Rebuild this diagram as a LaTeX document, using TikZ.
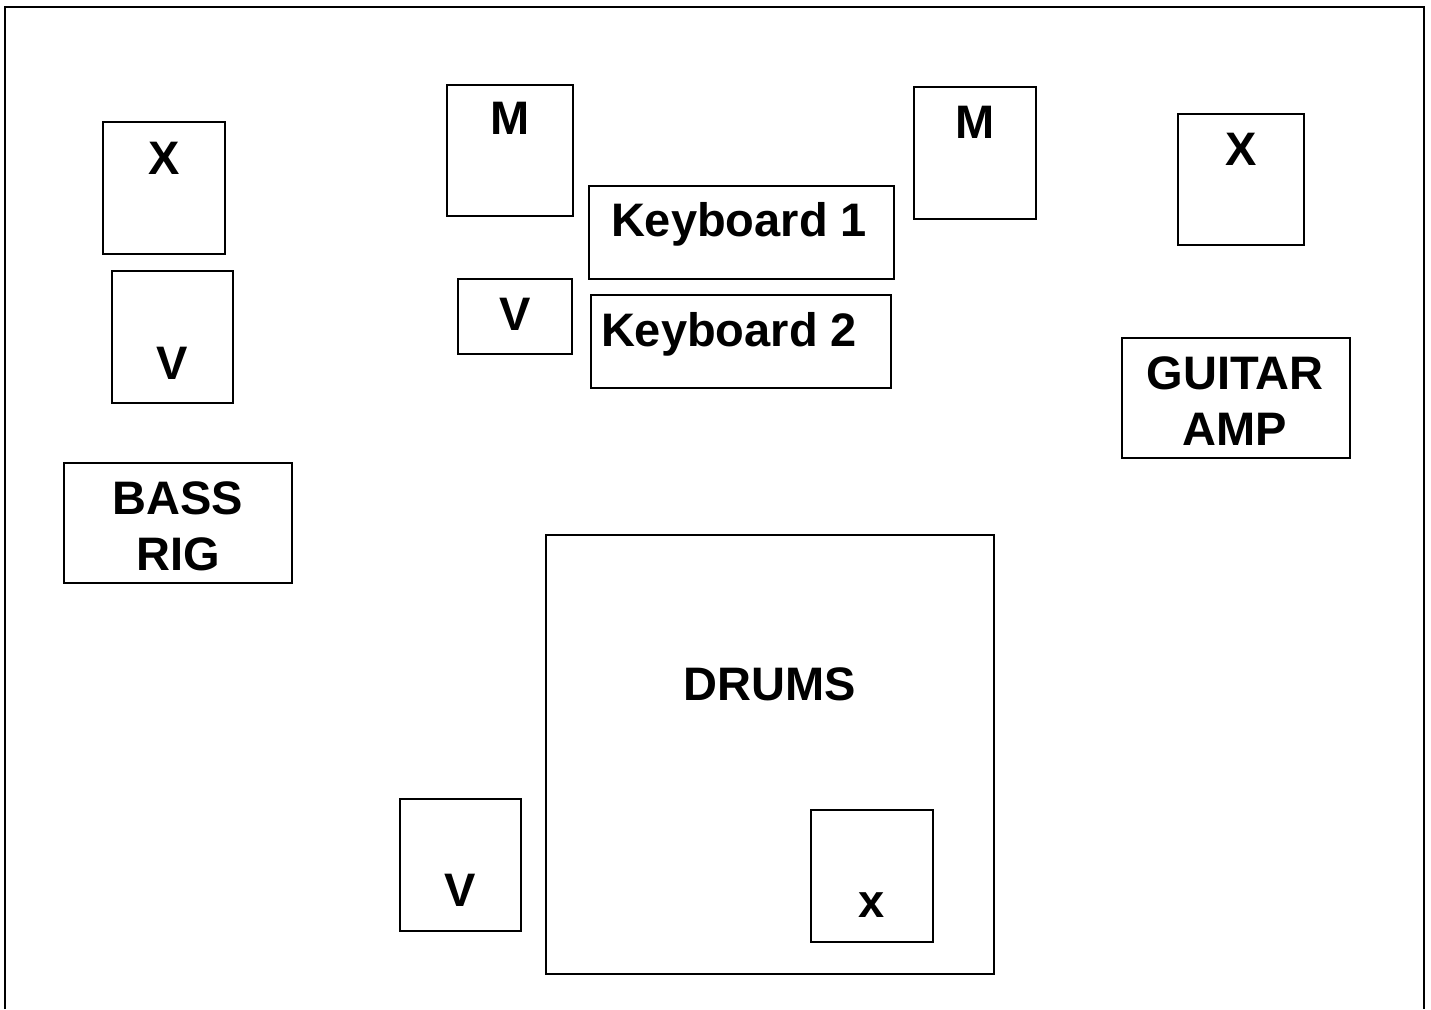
\documentclass[tikz,border=0pt]{standalone}
\usepackage{fontspec}
\setmainfont{Liberation Sans}
\begin{document}
\begin{tikzpicture}[x=1pt,y=-1pt,
  boxst/.style={draw,line width=1.4pt,anchor=north west,inner sep=0pt,outer sep=0pt},
  lbl/.style={anchor=base,inner sep=0pt,font=\fontsize{47}{54}\selectfont\bfseries}]
\useasboundingbox (0,0) rectangle (1431,1009);
\fill[white] (0,0) rectangle (1431,1009);
\draw[line width=2pt] (5,1009) -- (5,6.5) -- (1424,6.5) -- (1424,1009);
% boxes
\node[boxst,minimum width=122pt,minimum height=132pt] (xlbox) at (103,122) {};
\node[boxst,minimum width=121pt,minimum height=132pt] (vlbox) at (112,271) {};
\node[boxst,minimum width=228pt,minimum height=120pt] (bassbox) at (64,463) {};
\node[boxst,minimum width=126pt,minimum height=131pt] (mlbox) at (447,85) {};
\node[boxst,minimum width=114pt,minimum height=75pt] (vmbox) at (458,279) {};
\node[boxst,minimum width=305pt,minimum height=93pt] (kbonebox) at (589,186) {};
\node[boxst,minimum width=300pt,minimum height=93pt] (kbtwobox) at (591,295) {};
\node[boxst,minimum width=122pt,minimum height=132pt] (mrbox) at (914,87) {};
\node[boxst,minimum width=126pt,minimum height=131pt] (xrbox) at (1178,114) {};
\node[boxst,minimum width=228pt,minimum height=120pt] (ampbox) at (1122,338) {};
\node[boxst,minimum width=448pt,minimum height=439pt] (drumsbox) at (546,535) {};
\node[boxst,minimum width=121pt,minimum height=132pt] (vbbox) at (400,799) {};
\node[boxst,minimum width=122pt,minimum height=132pt] (xdbox) at (811,810) {};
% labels
\node[lbl] (xl) at (164,174) {X};
\node[lbl] (vl) at (172,379) {V};
\node[lbl] (bass1) at (178,514) {BASS};
\node[lbl] (bass2) at (178,570) {RIG};
\node[lbl] (ml) at (510,134) {M};
\node[lbl] (vm) at (515,330) {V};
\node[lbl] (kbone) at (739,236) {Keyboard 1};
\node[lbl] (kbtwo) at (729,346) {Keyboard 2};
\node[lbl] (mr) at (975,138) {M};
\node[lbl] (xr) at (1241,165) {X};
\node[lbl] (amp1) at (1235,389) {GUITAR};
\node[lbl] (amp2) at (1235,445) {AMP};
\node[lbl] (drums) at (770,700) {DRUMS};
\node[lbl] (vb) at (460,906) {V};
\node[lbl] (xd) at (872,917) {x};
\end{tikzpicture}
\end{document}
